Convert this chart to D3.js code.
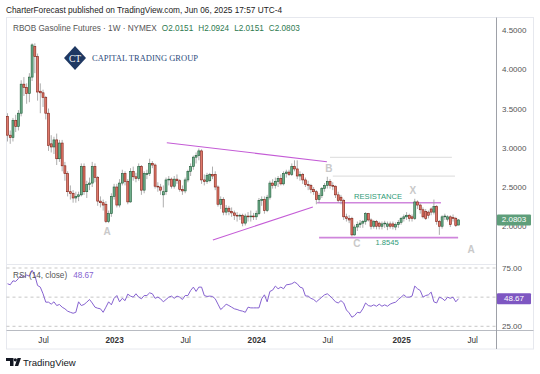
<!DOCTYPE html>
<html>
<head>
<meta charset="utf-8">
<script src="https://cdn.jsdelivr.net/npm/d3@7"></script>
<style>
  body { margin: 0; background: #fff; }
  svg { display: block; font-family: "Liberation Sans", Arial, sans-serif; }
</style>
</head>
<body>
<svg id="chart" width="540" height="374"></svg>
<script>
// weekly RBOB bars, [open, high, low, close], first bar week of 2022-04-04
const bars = [
  [3.40,3.44,3.08,3.16],[3.16,3.22,3.05,3.13],[3.13,3.38,3.08,3.35],[3.35,3.42,3.20,3.27],[3.27,3.48,3.22,3.44],
  [3.44,3.86,3.40,3.81],[3.81,3.90,3.66,3.77],[3.77,3.82,3.56,3.69],[3.69,3.95,3.58,3.90],[3.90,4.33,3.85,4.31],
  [4.29,4.33,3.95,4.16],[4.16,4.20,3.60,3.71],[3.72,3.82,3.44,3.70],[3.70,3.74,3.52,3.64],[3.64,3.66,3.36,3.44],
  [3.44,3.50,2.96,3.03],[3.05,3.16,2.94,3.01],[3.01,3.14,2.92,3.10],[3.10,3.18,2.78,2.86],[2.86,3.10,2.82,3.06],
  [3.06,3.10,2.70,2.77],[2.77,2.82,2.58,2.67],[2.67,2.70,2.38,2.44],[2.44,2.52,2.34,2.42],[2.42,2.46,2.30,2.36],
  [2.36,2.44,2.30,2.38],[2.38,2.44,2.32,2.40],[2.40,2.80,2.38,2.76],[2.76,2.80,2.40,2.44],[2.44,2.58,2.36,2.53],
  [2.53,2.62,2.46,2.55],[2.55,2.82,2.50,2.76],[2.76,2.80,2.56,2.62],[2.62,2.64,2.26,2.32],[2.32,2.38,2.24,2.30],
  [2.30,2.34,2.20,2.27],[2.28,2.32,2.04,2.06],[2.06,2.20,2.04,2.16],[2.16,2.42,2.12,2.38],[2.38,2.54,2.34,2.50],
  [2.50,2.54,2.24,2.27],[2.27,2.60,2.24,2.55],[2.55,2.72,2.52,2.67],[2.67,2.70,2.52,2.57],[2.57,2.60,2.28,2.31],
  [2.31,2.74,2.30,2.70],[2.70,2.76,2.58,2.63],[2.63,2.68,2.56,2.61],[2.61,2.80,2.58,2.76],[2.76,2.78,2.40,2.46],
  [2.46,2.70,2.42,2.67],[2.66,2.72,2.60,2.67],[2.67,2.86,2.64,2.80],[2.80,2.83,2.74,2.78],[2.78,2.80,2.48,2.51],
  [2.51,2.56,2.44,2.50],[2.50,2.54,2.40,2.46],[2.40,2.52,2.24,2.44],[2.44,2.62,2.40,2.59],[2.59,2.64,2.52,2.60],
  [2.60,2.62,2.48,2.51],[2.51,2.64,2.48,2.60],[2.60,2.66,2.54,2.58],[2.58,2.60,2.44,2.47],[2.47,2.52,2.40,2.45],
  [2.45,2.62,2.42,2.59],[2.59,2.72,2.56,2.70],[2.70,2.80,2.64,2.76],[2.76,2.90,2.72,2.88],[2.88,2.94,2.80,2.90],
  [2.90,2.99,2.84,2.96],[2.96,2.98,2.54,2.59],[2.59,2.66,2.52,2.57],[2.57,2.68,2.54,2.65],[2.58,2.68,2.56,2.66],
  [2.66,2.76,2.60,2.64],[2.66,2.70,2.46,2.50],[2.50,2.52,2.25,2.28],[2.28,2.38,2.22,2.34],[2.34,2.37,2.14,2.18],
  [2.18,2.27,2.14,2.23],[2.23,2.26,2.14,2.19],[2.19,2.24,2.12,2.17],[2.17,2.20,2.08,2.14],[2.14,2.18,2.06,2.13],
  [2.13,2.16,2.08,2.14],[2.14,2.16,2.00,2.04],[2.04,2.16,2.01,2.13],[2.13,2.18,2.06,2.12],[2.12,2.20,2.06,2.13],
  [2.13,2.17,2.08,2.12],[2.12,2.20,2.08,2.16],[2.16,2.36,2.14,2.33],[2.33,2.38,2.26,2.34],[2.34,2.38,2.16,2.20],
  [2.20,2.40,2.18,2.37],[2.37,2.58,2.34,2.55],[2.55,2.60,2.48,2.52],[2.52,2.62,2.48,2.57],[2.57,2.64,2.50,2.61],
  [2.61,2.66,2.52,2.54],[2.54,2.70,2.52,2.67],[2.67,2.72,2.62,2.69],[2.69,2.72,2.64,2.66],[2.66,2.80,2.64,2.76],
  [2.76,2.84,2.70,2.73],[2.73,2.84,2.60,2.64],[2.64,2.70,2.58,2.66],[2.66,2.68,2.54,2.59],[2.59,2.62,2.50,2.53],
  [2.53,2.58,2.46,2.52],[2.52,2.54,2.42,2.47],[2.47,2.50,2.40,2.44],[2.44,2.46,2.28,2.34],[2.34,2.42,2.30,2.39],
  [2.39,2.50,2.36,2.48],[2.48,2.55,2.44,2.52],[2.52,2.63,2.48,2.57],[2.57,2.60,2.48,2.52],[2.52,2.56,2.46,2.51],
  [2.51,2.52,2.36,2.40],[2.40,2.44,2.30,2.33],[2.37,2.40,2.28,2.33],[2.33,2.35,2.08,2.12],[2.12,2.16,2.06,2.10],
  [2.10,2.14,2.04,2.08],[2.10,2.12,1.87,1.89],[1.89,2.02,1.88,1.99],[1.99,2.06,1.94,2.02],[2.02,2.08,1.98,2.04],
  [2.04,2.08,1.98,2.06],[2.06,2.18,2.02,2.16],[2.16,2.17,2.06,2.08],[2.08,2.10,1.96,2.00],[2.00,2.08,1.97,2.06],
  [2.06,2.08,1.96,2.00],[2.04,2.06,1.96,2.00],[2.00,2.06,1.96,2.03],[2.03,2.07,1.98,2.04],[2.00,2.06,1.95,2.03],
  [2.03,2.06,1.97,2.00],[2.03,2.06,1.96,2.00],[1.99,2.05,1.95,2.02],[2.02,2.08,1.98,2.05],[2.05,2.12,2.02,2.10],
  [2.10,2.15,2.06,2.12],[2.12,2.18,2.08,2.14],[2.14,2.16,2.06,2.10],[2.12,2.15,2.06,2.10],[2.10,2.35,2.08,2.31],
  [2.31,2.33,2.22,2.27],[2.27,2.29,2.16,2.21],[2.21,2.24,2.10,2.12],[2.19,2.22,2.08,2.10],[2.18,2.20,2.10,2.14],
  [2.22,2.24,2.14,2.18],[2.18,2.34,2.15,2.25],[2.25,2.27,2.02,2.06],[2.06,2.08,1.89,2.00],[2.00,2.14,1.97,2.12],
  [2.12,2.16,2.08,2.13],[2.09,2.14,2.06,2.12],[2.12,2.14,1.99,2.02],[2.11,2.15,2.06,2.10],[2.10,2.12,1.99,2.01],
  [2.0151,2.0924,2.0151,2.0803]
];

// RSI(14, close), one value per weekly bar
const rsi = [
  61.5,60.6,64,63.5,66,68.7,67,69,68,73, 68.7,60,58.6,52.9,45.7,45.7,44,46,42.8,43.7,
  41.4,40,38,37,36.2,37,46,42.8,43.7,45.7, 48,45,41.4,40.5,40,37,41.4,46,43.4,49,
  51.4,46,49,47,52.6,50.9,50,52.9,50,48.6, 51.4,51.4,53.7,52.9,49,50,48.6,46,48,50,
  50.9,49,50.9,50,48,51.4,51.4,55.7,58.6,54.9, 58.6,58.6,51.4,50.6,50.9,50.6,48.6,44,39.4,41.4,
  44,42.8,41.4,40,39.4,38.5,38,37,41.4,40.8, 40.8,40.8,40.8,48.6,52,46,54.9,56,59.5,57.2,
  58.6,57.2,60.6,60.9,61.5,62.9,61.5,58.6,57.8,51, 50.9,49,48,46,48,50,52,52.9,50.9,48.6,
  46,45,47,45,39,36.5,32.8,34.2,37,36.5, 40,45,42.8,42.2,43.4,42.2,44,42.2,43.4,42.2,
  44,45,45.7,48,50,52,50,50,50.9,59.5, 57.2,55.7,50,51.4,52,54.3,46,45,50,49,
  47,50,49,50,46,48.67
];

const firstWeek = new Date(2022, 3, 4);
const lastWeek = new Date(2025, 5, 2);
const weeks = d3.timeMonday.range(firstWeek, d3.timeDay.offset(lastWeek, 1));

const timeTicks = [new Date(2022,6,4), new Date(2023,0,2), new Date(2023,6,3), new Date(2024,0,1),
                   new Date(2024,6,1), new Date(2025,0,6), new Date(2025,6,7)];
const timeLabels = ["Jul", "2023", "Jul", "2024", "Jul", "2025", "Jul"];
const priceTicks = [2.0, 2.5, 3.0, 3.5, 4.0, 4.5];
const rsiTicks = [25, 75];
const rsiBands = [75, 50, 25];

// drawings on the chart: [start date, start price, end date, end price, style]
const drawings = [
  [new Date(2023,4,17), 3.064, new Date(2024,5,30), 2.822, "wedge"],
  [new Date(2023,8,12), 1.825, new Date(2024,4,25), 2.245, "wedge"],
  [new Date(2024,5,5), 2.30, new Date(2025,3,18), 2.30, "level"],
  [new Date(2024,5,10), 1.8545, new Date(2025,5,1), 1.8545, "level"],
  [new Date(2024,6,8), 2.878, new Date(2025,4,16), 2.878, "faint"],
  [new Date(2024,6,15), 2.638, new Date(2025,4,24), 2.638, "faint"]
];
// text marks: [label, date, price, kind]
const marks = [
  ["A", new Date(2022,11,15), 1.93, "wave"],
  ["B", new Date(2024,6,5), 2.73, "wave"],
  ["X", new Date(2025,1,5), 2.45, "wave"],
  ["C", new Date(2024,8,15), 1.775, "wave"],
  ["A", new Date(2025,6,4), 1.71, "wave"],
  ["RESISTANCE", new Date(2024,10,8), 2.385, "note"],
  ["1.8545", new Date(2024,11,1), 1.787, "note"]
];

const svg = d3.select("#chart");
svg.append("rect").attr("width", 540).attr("height", 374).attr("fill", "#fff");

const x = d3.scaleTime().domain([firstWeek, lastWeek]).range([7.5, 458.5]);
const y = d3.scaleLinear().domain([2.0, 4.5]).range([226.25, 30]);
const yr = d3.scaleLinear().domain([25, 75]).range([326.3, 268]);

// header
svg.append("text").attr("x", 6).attr("y", 13).attr("font-size", 8.6).attr("fill", "#222")
  .attr("textLength", 276).attr("lengthAdjust", "spacingAndGlyphs")
  .text("CharterForecast published on TradingView.com, Jun 06, 2025 17:57 UTC-4");

// panel frame and separators
svg.append("rect").attr("x", 6.5).attr("y", 17.5).attr("width", 527).attr("height", 331.5)
  .attr("fill", "none").attr("stroke", "#e6e8ee");
svg.append("line").attr("x1", 6.5).attr("x2", 496).attr("y1", 264.5).attr("y2", 264.5).attr("stroke", "#e6e8ee");
svg.append("line").attr("x1", 6.5).attr("x2", 533.5).attr("y1", 330.5).attr("y2", 330.5).attr("stroke", "#b8bbc2");
svg.append("line").attr("x1", 496.5).attr("x2", 496.5).attr("y1", 17.5).attr("y2", 349).attr("stroke", "#9ea1a8");

// logo
const logo = svg.append("g");
logo.append("path").attr("d", "M75 46 L86 58 L75 70 L64 58 Z").attr("fill", "#1f3862");
logo.append("text").attr("x", 75).attr("y", 61.5).attr("text-anchor", "middle")
  .attr("font-family", "'Liberation Serif', 'DejaVu Serif', serif").attr("font-size", 9.5)
  .attr("fill", "#fff").text("CT");
logo.append("text").attr("x", 92).attr("y", 60.5)
  .attr("font-family", "'Liberation Serif', 'DejaVu Serif', serif").attr("font-size", 8.2)
  .attr("fill", "#2b4a7c").attr("textLength", 106).attr("lengthAdjust", "spacingAndGlyphs")
  .text("CAPITAL TRADING GROUP");

// legend
const legend = svg.append("text").attr("x", 13).attr("y", 31).attr("font-size", 8.2);
legend.append("tspan").attr("fill", "#555").text("RBOB Gasoline Futures · 1W · NYMEX");
[["O", bars[bars.length-1][0]], ["H", bars[bars.length-1][1]], ["L", bars[bars.length-1][2]], ["C", bars[bars.length-1][3]]]
  .forEach(([k, v]) => {
    legend.append("tspan").attr("dx", 5).attr("fill", "#2e7a4f").text(k);
    legend.append("tspan").attr("fill", "#2e7a4f").text(v.toFixed(4));
  });

// drawings
const drawStyle = {
  wedge: {stroke: "#c45cd6", width: 1.1},
  level: {stroke: "#cf86dc", width: 1.6},
  faint: {stroke: "#e2e2e2", width: 1.2}
};
svg.append("g").selectAll("line").data(drawings).join("line")
  .attr("x1", d => x(d[0])).attr("y1", d => y(d[1]))
  .attr("x2", d => x(d[2])).attr("y2", d => y(d[3]))
  .attr("stroke", d => drawStyle[d[4]].stroke)
  .attr("stroke-width", d => drawStyle[d[4]].width);

// candles
const candles = svg.append("g").selectAll("g").data(bars).join("g");
candles.append("line")
  .attr("x1", (d, i) => x(weeks[i])).attr("x2", (d, i) => x(weeks[i]))
  .attr("y1", d => y(d[1])).attr("y2", d => y(d[2]))
  .attr("stroke", "#a5a5a5").attr("stroke-width", 0.9);
candles.append("rect")
  .attr("x", (d, i) => x(weeks[i]) - 1)
  .attr("width", 2)
  .attr("y", d => y(Math.max(d[0], d[3])))
  .attr("height", d => Math.max(0.8, Math.abs(y(d[0]) - y(d[3]))))
  .attr("fill", d => d[3] >= d[0] ? "#6fae8b" : "#e0786a")
  .attr("stroke", d => d[3] >= d[0] ? "#1f5a37" : "#7e1f14")
  .attr("stroke-width", 0.6);

// text marks
svg.append("g").selectAll("text").data(marks).join("text")
  .attr("x", d => x(d[1])).attr("y", d => y(d[2]))
  .attr("text-anchor", "middle").attr("dominant-baseline", "central")
  .attr("font-size", d => d[3] === "wave" ? 10 : 7.6)
  .attr("font-weight", d => d[3] === "wave" ? "bold" : "normal")
  .attr("fill", d => d[3] === "wave" ? "#c9c9c9" : "#2f9a78")
  .text(d => d[0]);

// price axis
const priceAxis = svg.append("g").attr("transform", "translate(496,0)")
  .call(d3.axisRight(y).tickValues(priceTicks).tickFormat(d3.format(".4f")).tickSize(0).tickPadding(6));
priceAxis.select(".domain").remove();
priceAxis.selectAll("text").attr("font-size", 8).attr("fill", "#555").attr("font-family", "'Liberation Sans', Arial, sans-serif");

// last price tag
const last = bars[bars.length - 1][3];
svg.append("rect").attr("x", 497).attr("y", y(last) - 5.5).attr("width", 34).attr("height", 11)
  .attr("fill", "#5e9e7a").attr("rx", 1);
svg.append("text").attr("x", 514).attr("y", y(last)).attr("text-anchor", "middle")
  .attr("dominant-baseline", "central").attr("font-size", 8).attr("fill", "#fff").text(last.toFixed(4));

// RSI pane
svg.append("g").selectAll("line").data(rsiBands).join("line")
  .attr("x1", 6.5).attr("x2", 496).attr("y1", d => yr(d)).attr("y2", d => yr(d))
  .attr("stroke", "#b9b9b9").attr("stroke-dasharray", "3,3").attr("stroke-width", 0.8);
svg.append("path").datum(rsi)
  .attr("fill", "none").attr("stroke", "#8662d0").attr("stroke-width", 1)
  .attr("d", d3.line().x((d, i) => x(weeks[i])).y(d => yr(d)));
const rsiLegend = svg.append("text").attr("x", 13).attr("y", 278).attr("font-size", 8.2);
rsiLegend.append("tspan").attr("fill", "#555").text("RSI (14, close)");
rsiLegend.append("tspan").attr("dx", 6).attr("fill", "#8662d0").text(rsi[rsi.length - 1].toFixed(2));

const rsiAxis = svg.append("g").attr("transform", "translate(496,0)")
  .call(d3.axisRight(yr).tickValues(rsiTicks).tickFormat(d3.format(".2f")).tickSize(0).tickPadding(6));
rsiAxis.select(".domain").remove();
rsiAxis.selectAll("text").attr("font-size", 8).attr("fill", "#555").attr("font-family", "'Liberation Sans', Arial, sans-serif");

const lastRsi = rsi[rsi.length - 1];
svg.append("rect").attr("x", 497).attr("y", yr(lastRsi) - 5.5).attr("width", 34).attr("height", 11)
  .attr("fill", "#7e57c2").attr("rx", 1);
svg.append("text").attr("x", 514).attr("y", yr(lastRsi)).attr("text-anchor", "middle")
  .attr("dominant-baseline", "central").attr("font-size", 8).attr("fill", "#fff").text(lastRsi.toFixed(2));

// time axis
const timeAxis = svg.append("g").attr("transform", "translate(0,331)")
  .call(d3.axisBottom(x).tickValues(timeTicks).tickFormat((d, i) => timeLabels[i]).tickSize(0).tickPadding(6));
timeAxis.select(".domain").remove();
timeAxis.selectAll("text").attr("font-size", 8.2).attr("fill", "#333")
  .attr("font-family", "'Liberation Sans', Arial, sans-serif")
  .attr("font-weight", (d, i) => /^\d/.test(timeLabels[i]) ? "bold" : "normal");

// TradingView footer
const tv = svg.append("g").attr("fill", "#131722");
tv.append("path").attr("d", "M6 358 H13.5 V366 H10 V361 H6 Z");
tv.append("circle").attr("cx", 15.3).attr("cy", 359.8).attr("r", 1.6);
tv.append("path").attr("d", "M17.5 358 H21 L18.2 366 H14.8 Z");
svg.append("text").attr("x", 23).attr("y", 365.5).attr("font-size", 9.6).attr("fill", "#131722").text("TradingView");
</script>
</body>
</html>
